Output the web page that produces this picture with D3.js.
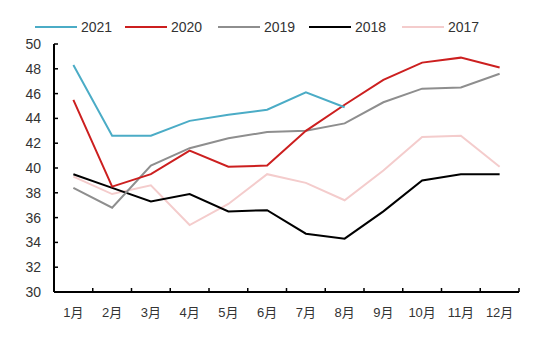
<!DOCTYPE html>
<html>
<head>
<meta charset="utf-8">
<script src="https://cdn.jsdelivr.net/npm/d3@7"></script>
<style>
  body { margin: 0; background: #fff; }
  text { font-family: "Liberation Sans", Arial, "Noto Sans CJK SC", sans-serif; }
</style>
</head>
<body>
<div id="chart"></div>
<script>
// data
var months = ["1月","2月","3月","4月","5月","6月","7月","8月","9月","10月","11月","12月"];
var yTicks = [30,32,34,36,38,40,42,44,46,48,50];
var years = ["2021","2020","2019","2018","2017"];
var colors = ["#4bacc6","#cc1f1f","#8e8e8e","#000000","#f4cccc"];

var v2021 = [48.3, 42.6, 42.6, 43.8, 44.3, 44.7, 46.1, 44.9];
var v2020 = [45.5, 38.5, 39.5, 41.4, 40.1, 40.2, 43.0, 45.1, 47.1, 48.5, 48.9, 48.1];
var v2019 = [38.4, 36.8, 40.2, 41.6, 42.4, 42.9, 43.0, 43.6, 45.3, 46.4, 46.5, 47.6];
var v2018 = [39.5, 38.4, 37.3, 37.9, 36.5, 36.6, 34.7, 34.3, 36.5, 39.0, 39.5, 39.5];
var v2017 = [39.3, 37.9, 38.6, 35.4, 37.1, 39.5, 38.8, 37.4, 39.8, 42.5, 42.6, 40.1];
var series = [v2021, v2020, v2019, v2018, v2017];

// set the dimensions and margins of the graph
var margin = {top: 44, right: 31, bottom: 46, left: 54},
    width = 550 - margin.left - margin.right,
    height = 338 - margin.top - margin.bottom;

var svg = d3.select("#chart").append("svg")
    .attr("width", 550)
    .attr("height", 338);

var g = svg.append("g")
    .attr("transform", "translate(" + margin.left + "," + margin.top + ")");

// scales
var x = d3.scaleBand().domain(months).range([0, width]);
var y = d3.scaleLinear().domain([30, 50]).range([height, 0]);

// x axis: ticks between categories, pointing inward
var xAxis = g.append("g")
    .attr("transform", "translate(0," + height + ")");
xAxis.append("line")
    .attr("x1", 0).attr("x2", width)
    .attr("stroke", "#000").attr("stroke-width", 2);
xAxis.selectAll(".tk")
    .data(d3.range(months.length + 1))
    .enter().append("line")
    .attr("x1", function(i) { return i * x.step(); })
    .attr("x2", function(i) { return i * x.step(); })
    .attr("y1", 0).attr("y2", -4)
    .attr("stroke", "#000").attr("stroke-width", 1.5);
xAxis.selectAll(".lbl")
    .data(months)
    .enter().append("text")
    .attr("x", function(d) { return x(d) + x.bandwidth() / 2; })
    .attr("y", 25)
    .attr("text-anchor", "middle")
    .style("font-size", "13px")
    .attr("fill", "#333")
    .text(function(d) { return d; });

// y axis
var yAxis = g.append("g");
yAxis.append("line")
    .attr("y1", 0).attr("y2", height)
    .attr("stroke", "#000").attr("stroke-width", 2);
yAxis.selectAll(".tk")
    .data(yTicks)
    .enter().append("line")
    .attr("x1", 0).attr("x2", 4)
    .attr("y1", function(d) { return y(d); })
    .attr("y2", function(d) { return y(d); })
    .attr("stroke", "#000").attr("stroke-width", 1.5);
yAxis.selectAll(".lbl")
    .data(yTicks)
    .enter().append("text")
    .attr("x", -13)
    .attr("y", function(d) { return y(d); })
    .attr("dy", "0.35em")
    .attr("text-anchor", "end")
    .style("font-size", "14px")
    .attr("fill", "#333")
    .text(function(d) { return d; });

// lines
var line = d3.line()
    .x(function(d, i) { return x(months[i]) + x.bandwidth() / 2; })
    .y(function(d) { return y(d); });

// draw back to front so 2021 is on top
for (var k = series.length - 1; k >= 0; k--) {
  g.append("path")
      .datum(series[k])
      .attr("fill", "none")
      .attr("stroke", colors[k])
      .attr("stroke-width", 2)
      .attr("d", line);
}

// legend
var legendX = [35, 125, 218, 309, 402];
var legend = svg.append("g");
years.forEach(function(yr, i) {
  legend.append("line")
      .attr("x1", legendX[i]).attr("x2", legendX[i] + 42)
      .attr("y1", 27).attr("y2", 27)
      .attr("stroke", colors[i]).attr("stroke-width", 2);
  legend.append("text")
      .attr("x", legendX[i] + 46)
      .attr("y", 27)
      .attr("dy", "0.35em")
      .style("font-size", "14px")
      .attr("fill", "#333")
      .text(yr);
});
</script>
</body>
</html>
